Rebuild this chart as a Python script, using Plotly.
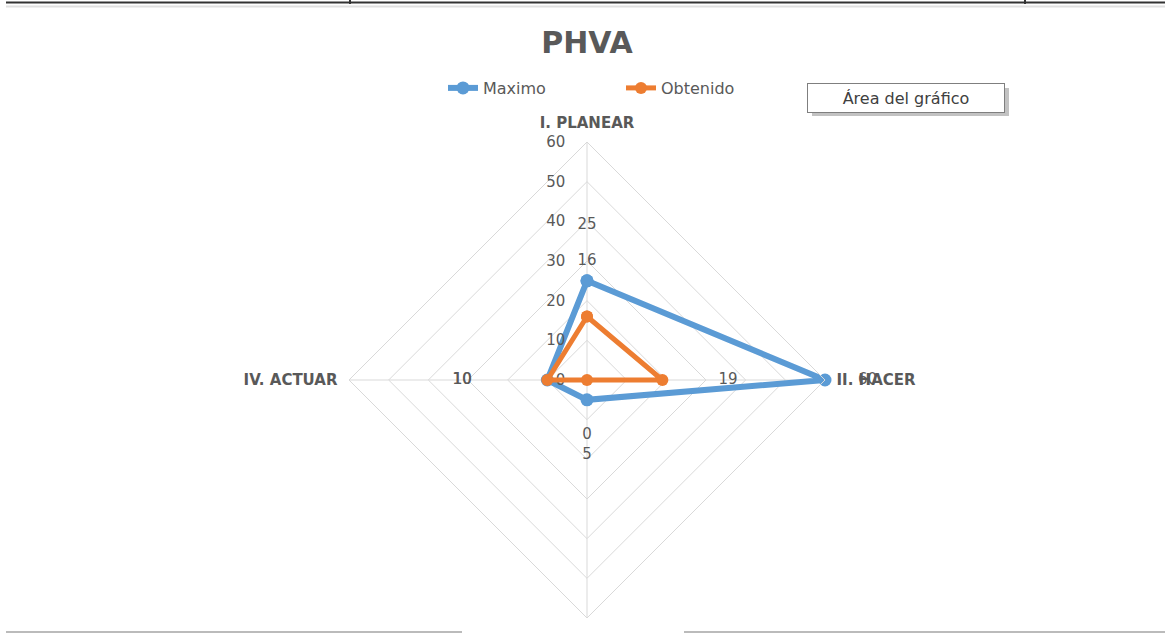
import plotly.graph_objects as go

W, H = 1165, 633

categories = ["I. PLANEAR", "II. HACER", "III. VERIFICAR", "IV. ACTUAR"]
maximo = [25, 60, 5, 10]
obtenido = [16, 19, 0, 10]
radial_ticks = [0, 10, 20, 30, 40, 50, 60]

BLUE = "#5B9BD5"
ORANGE = "#ED7D31"
GRAY_TXT = "#595959"
GRID = "#D9D9D9"
FONT = "'DejaVu Sans', Verdana, sans-serif"

label_pos = ["top center", "middle right", "bottom center", "middle left"]


def pad_labels(vals, right_pad, left_pad):
    out = []
    for i, v in enumerate(vals):
        s = str(v)
        if i == 0:
            s = s + "<br> <br> "
        elif i == 1:
            s = "&nbsp;" * right_pad + s
        elif i == 2:
            s = " <br> <br>" + s
        else:
            s = s + "&nbsp;" * left_pad
        out.append(s)
    return out


fig = go.Figure()

# Maximo on the polygon-grid subplot
fig.add_trace(go.Scatterpolar(
    r=maximo + maximo[:1],
    theta=categories + categories[:1],
    name="Maximo",
    subplot="polar",
    mode="lines+markers+text",
    line=dict(color=BLUE, width=6),
    marker=dict(color=BLUE, size=13),
    text=pad_labels(maximo, 5, 14) + [""],
    textposition=label_pos + ["top center"],
    textfont=dict(family=FONT, size=15, color=GRAY_TXT),
    cliponaxis=False,
))

# Obtenido on a transparent overlay subplot (same scale) so the value 0 at
# the centre is kept
fig.add_trace(go.Scatterpolar(
    r=obtenido + obtenido[:1],
    theta=categories + categories[:1],
    name="Obtenido",
    subplot="polar2",
    mode="lines+markers+text",
    line=dict(color=ORANGE, width=5),
    marker=dict(color=ORANGE, size=12),
    text=pad_labels(obtenido, 10, 14) + [""],
    textposition=label_pos + ["top center"],
    textfont=dict(family=FONT, size=15, color=GRAY_TXT),
    cliponaxis=False,
))

cx, cy, R = 587, 380, 238
domain = dict(x=[(cx - R) / W, (cx + R) / W],
              y=[(H - cy - R) / H, (H - cy + R) / H])

fig.update_layout(
    width=W, height=H,
    margin=dict(l=0, r=0, t=0, b=0),
    paper_bgcolor="white",
    plot_bgcolor="white",
    font=dict(family=FONT, color=GRAY_TXT),
    title=dict(text="<b>PHVA</b>", x=587 / W, xanchor="center",
               y=1 - 42 / H, yanchor="middle",
               font=dict(family=FONT, size=30, color=GRAY_TXT)),
    showlegend=True,
    legend=dict(orientation="h", x=443 / W, xanchor="left",
                y=1 - 88 / H, yanchor="middle",
                entrywidth=133, entrywidthmode="pixels",
                font=dict(family=FONT, size=16, color=GRAY_TXT),
                bgcolor="rgba(0,0,0,0)"),
    polar=dict(
        domain=domain,
        gridshape="linear",
        bgcolor="white",
        radialaxis=dict(range=[0, 60], tickvals=radial_ticks,
                        angle=90, side="counterclockwise", tickangle=90,
                        showline=False, ticks="outside", ticklen=16,
                        tickcolor="rgba(0,0,0,0)",
                        gridcolor=GRID, gridwidth=1,
                        tickfont=dict(family=FONT, size=15, color=GRAY_TXT)),
        angularaxis=dict(type="category", rotation=90, direction="clockwise",
                         categoryorder="array", categoryarray=categories,
                         showline=True, linecolor=GRID, linewidth=1,
                         gridcolor=GRID, gridwidth=1,
                         ticks="outside", ticklen=8, tickcolor="rgba(0,0,0,0)",
                         tickfont=dict(family=FONT, size=15, color=GRAY_TXT,
                                       weight="bold")),
    ),
    polar2=dict(
        domain=domain,
        gridshape="circular",
        bgcolor="rgba(0,0,0,0)",
        radialaxis=dict(range=[0, 60], angle=90, visible=False,
                        showgrid=False, showline=False, showticklabels=False),
        angularaxis=dict(type="category", rotation=90, direction="clockwise",
                         categoryorder="array", categoryarray=categories,
                         visible=False, showgrid=False, showline=False,
                         showticklabels=False),
    ),
)

# Excel tooltip "Área del gráfico" with its shadow
fig.add_shape(type="rect", xref="paper", yref="paper",
              x0=812 / W, x1=1009 / W, y0=1 - 116 / H, y1=1 - 88 / H,
              line=dict(width=0), fillcolor="rgba(120,120,120,0.45)", layer="above")
fig.add_annotation(text="Área del gráfico", xref="paper", yref="paper",
                   x=906 / W, y=1 - 98 / H, xanchor="center", yanchor="middle",
                   showarrow=False, bgcolor="white", bordercolor="#7F7F7F",
                   borderwidth=1, borderpad=4, width=188, height=20,
                   font=dict(family=FONT, size=16, color="#404040"))

# page borders from the original screenshot
fig.add_shape(type="line", xref="paper", yref="paper",
              x0=6 / W, x1=1, y0=1 - 2.5 / H, y1=1 - 2.5 / H,
              line=dict(color="#333333", width=2))
fig.add_shape(type="line", xref="paper", yref="paper",
              x0=6 / W, x1=1, y0=1 - 6.5 / H, y1=1 - 6.5 / H,
              line=dict(color="#E0E0E0", width=2))
for xv in (350, 1025):
    fig.add_shape(type="line", xref="paper", yref="paper",
                  x0=xv / W, x1=xv / W, y0=1, y1=1 - 4 / H,
                  line=dict(color="#333333", width=2))
fig.add_shape(type="line", xref="paper", yref="paper",
              x0=6 / W, x1=462 / W, y0=1 - 632 / H, y1=1 - 632 / H,
              line=dict(color="#BBBBBB", width=2))
fig.add_shape(type="line", xref="paper", yref="paper",
              x0=684 / W, x1=1, y0=1 - 632 / H, y1=1 - 632 / H,
              line=dict(color="#BBBBBB", width=2))

fig.write_html("out.html",
               config={"displayModeBar": False},
               post_script="document.body.style.margin='0';document.body.style.overflow='hidden';")
